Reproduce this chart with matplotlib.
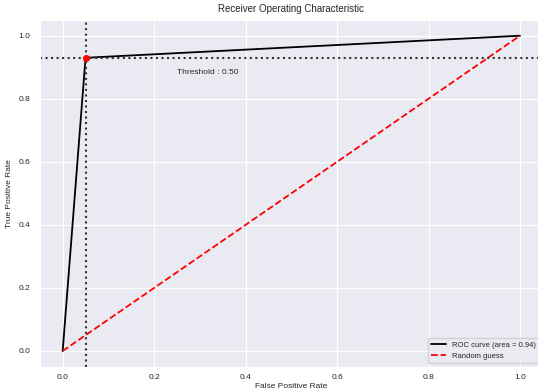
import matplotlib
matplotlib.use("Agg")
import matplotlib.pyplot as plt
import seaborn as sns

fpr = [0.0, 0.05, 1.0]
tpr = [0.0, 0.93, 1.0]
roc_auc = 0.94
thr_fpr = 0.05
thr_tpr = 0.93
threshold = 0.50

sns.set_style("darkgrid")
plt.rcParams['font.family'] = ['Liberation Sans', 'DejaVu Sans']

fig = plt.figure(figsize=(5.38, 3.91), dpi=100)
ax = fig.add_axes([0.074, 0.062, 0.935, 0.887])
ax.plot(fpr, tpr, color='black', lw=1.3, label=f'ROC curve (area = {roc_auc:.2f})')
ax.plot([0, 1], [0, 1], color='red', lw=1.3, linestyle='--', label='Random guess')
ax.axvline(thr_fpr, color='#333333', linestyle=':', lw=1.5)
ax.axhline(thr_tpr, color='#333333', linestyle=':', lw=1.5)
ax.plot(thr_fpr, thr_tpr, 'o', color='red', markersize=4)
ax.text(0.25, 0.88, f'Threshold : {threshold:.2f}', fontsize=6)
ax.set_xlabel('False Positive Rate', fontsize=6, labelpad=1)
ax.set_ylabel('True Positive Rate', fontsize=6, labelpad=4)
ax.set_title('Receiver Operating Characteristic', fontsize=7, pad=6)
ax.tick_params(labelsize=6)
ax.tick_params(axis='x', pad=2)
ax.legend(loc='lower right', fontsize=5.5, frameon=True)
plt.savefig('out.png', dpi=100)
